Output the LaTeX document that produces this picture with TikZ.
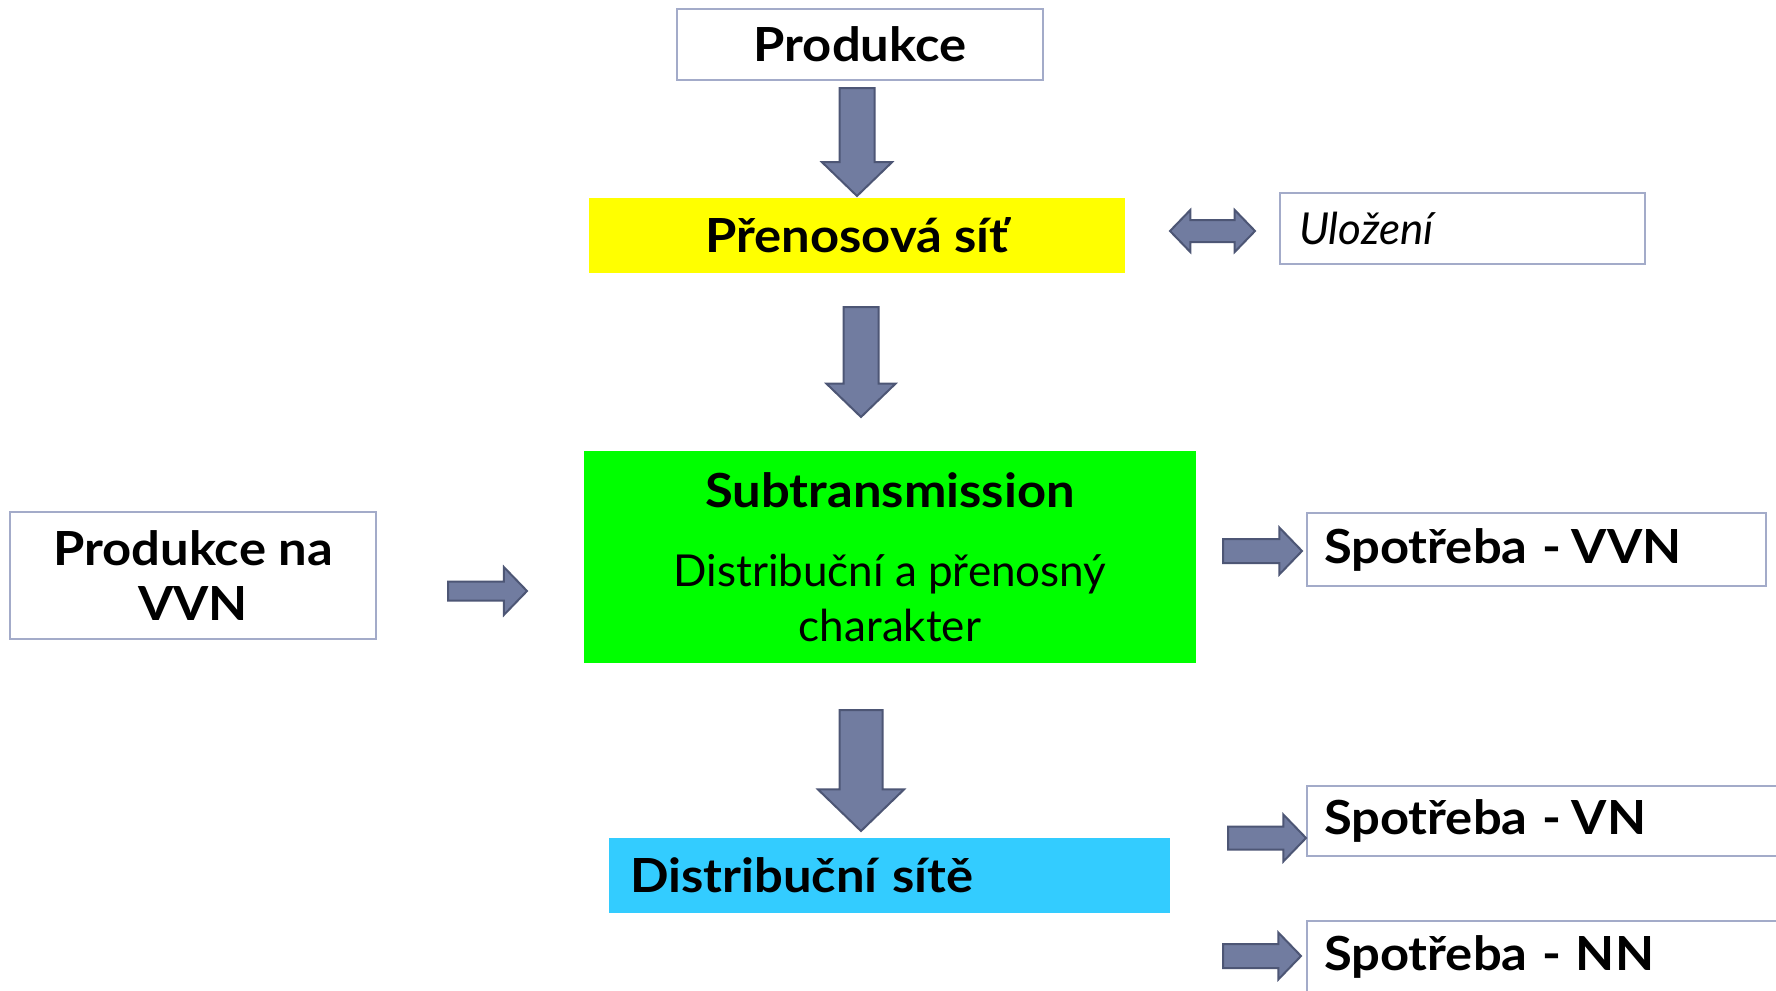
\documentclass[tikz,border=0pt]{standalone}
\usepackage{fontspec}
\setmainfont{Lato}[BoldFeatures={FakeStretch=1.08}]
\usepackage{tikz}
\usepackage{xcolor}
\usetikzlibrary{shapes.arrows}

\definecolor{boxline}{HTML}{A3ABC9}
\definecolor{arrowfill}{HTML}{717CA0}
\definecolor{arrowline}{HTML}{4D5675}
\definecolor{prenyellow}{HTML}{FFFF00}
\definecolor{subgreen}{HTML}{00FF00}
\definecolor{distblue}{HTML}{33CCFF}

\newcommand{\boldbig}{\fontsize{47}{55}\selectfont\bfseries}

\tikzset{
  box/.style={draw=boxline, line width=2.5pt, fill=white, inner sep=0pt},
  bigtext/.style={font=\fontsize{44}{55}\selectfont},
  fatarrow/.style={single arrow, draw=arrowline, fill=arrowfill, line width=2pt,
    inner xsep=0pt, single arrow tip angle=92, anchor=tail},
  downarrow/.style={fatarrow, rotate=-90},
}

\begin{document}
\begin{tikzpicture}[x=1pt, y=-1pt]
    \clip (0, 0) rectangle (1776, 990);
    \fill [white] (0, 0) rectangle (1776, 990);
    % main chain
    \path (860, 44.5) node [box, bigtext, minimum width=366pt, minimum height=71pt] (prod) {\boldbig Produkce};
    \path (857, 235.5) node [fill=prenyellow, bigtext, minimum width=536pt, minimum height=75pt] (pren) {\boldbig Přenosová síť};
    \path (890, 557) node [fill=subgreen, bigtext, minimum width=612pt, minimum height=212pt, align=center] (sub)
        {{\boldbig Subtransmission}\\[24pt] Distribuční a přenosný\\ charakter};
    \path (889.5, 875.5) node [fill=distblue, bigtext, text width=519pt, inner xsep=21pt, minimum height=75pt, align=left] (dist) {\boldbig Distribuční sítě};
    % side boxes
    \path (1462.5, 228.5) node [box, bigtext, text width=327pt, inner xsep=19pt, minimum height=71pt, align=left] (ulozeni) {\itshape Uložení};
    \path (193, 575.5) node [box, bigtext, minimum width=366pt, minimum height=127pt, align=center] (prodvvn) {\boldbig Produkce na\\ \boldbig VVN};
    \path (1536.5, 549.5) node [box, bigtext, text width=425pt, inner xsep=17pt, minimum height=73pt, align=left] (vvn) {\boldbig Spotřeba -\kern-4pt{} VVN};
    \path (1553.5, 821) node [box, bigtext, text width=459pt, inner xsep=17pt, minimum height=70pt, align=left] (vn) {\boldbig Spotřeba -\kern-4pt{} VN};
    \path (1553.5, 957) node [box, bigtext, text width=459pt, inner xsep=17pt, minimum height=72pt, align=left] (nn) {\boldbig Spotřeba - NN};
    % block arrows
    \path (857, 87) node [downarrow, inner ysep=16.5pt, single arrow head extend=17.5pt, minimum height=108pt] (a1) {};
    \path (861, 306) node [downarrow, inner ysep=16.5pt, single arrow head extend=17pt, minimum height=110pt] (a2) {};
    \path (861, 709) node [downarrow, inner ysep=20.5pt, single arrow head extend=21.5pt, minimum height=121pt] (a3) {};
    \path (447, 591) node [fatarrow, inner ysep=8.5pt, single arrow head extend=14.5pt, minimum height=79pt] (a4) {};
    \path (1222, 551) node [fatarrow, inner ysep=11pt, single arrow head extend=11.5pt, minimum height=79pt] (a5) {};
    \path (1227, 838) node [fatarrow, inner ysep=10.5pt, single arrow head extend=12pt, minimum height=78pt] (a6) {};
    \path (1222, 956) node [fatarrow, inner ysep=11pt, single arrow head extend=11.5pt, minimum height=78pt] (a7) {};
    \path (1212.5, 231) node [double arrow, draw=arrowline, fill=arrowfill, line width=2pt, inner xsep=0pt, inner ysep=10pt,
        double arrow head extend=10pt, double arrow tip angle=92, minimum height=85pt] (au) {};
\end{tikzpicture}
\end{document}
